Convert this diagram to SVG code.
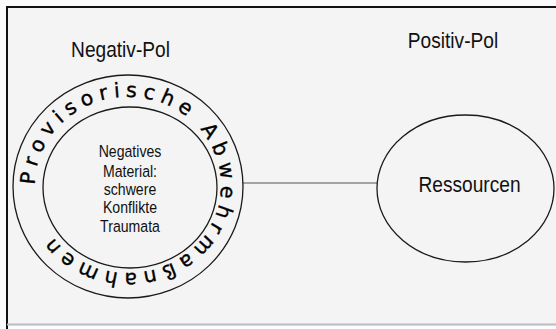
<svg xmlns="http://www.w3.org/2000/svg" width="556" height="329" viewBox="0 0 556 329">
  <style>
    .ring { fill: none; stroke: #1a1a1a; stroke-width: 1.3; }
    .label { font-family: "Liberation Sans", Arial, sans-serif; font-size: 22.5px; fill: #111; text-anchor: middle; }
    .inner { font-family: "Liberation Sans", Arial, sans-serif; font-size: 17px; fill: #111; text-anchor: middle; }
    .arc-text { font-family: "DejaVu Sans", Verdana, sans-serif; font-size: 20.5px; fill: #000; stroke: #000; stroke-width: 0.35; letter-spacing: 5.8px; }
    .link { stroke: #555; stroke-width: 1.1; fill: none; }
  </style>
  <defs>
    <!-- clockwise baseline for the lettering between the two rings, starting at the left -->
    <path id="ringPath" d="M35,185 A93,88 0 1,1 221,185 A93,88 0 1,1 35,185"/>
  </defs>

  <!-- paper and frame -->
  <rect x="0" y="0" width="556" height="329" fill="#fbfbfb"/>
  <rect x="7" y="7" width="549" height="317" fill="#f4f4f4"/>
  <line x1="7" y1="7" x2="556" y2="7" stroke="#111" stroke-width="2"/>
  <line x1="7" y1="6" x2="7" y2="329" stroke="#111" stroke-width="2"/>
  <line x1="7" y1="324.5" x2="556" y2="324.5" stroke="#b8bcc4" stroke-width="2"/>

  <g id="connectors">
    <line class="link" x1="243" y1="183" x2="377" y2="183"/>
  </g>

  <g id="negativ-pol">
    <g transform="translate(120.5,57) scale(0.85,1)">
      <text class="label" x="0" y="0">Negativ-Pol</text>
    </g>
    <ellipse class="ring" cx="128" cy="186.5" rx="115" ry="111.5"/>
    <ellipse class="ring" cx="130" cy="187.5" rx="87" ry="80.5"/>
    <text class="arc-text"><textPath href="#ringPath" startOffset="0">Provisorische Abwehrmaßnahmen</textPath></text>
    <g transform="translate(130,0) scale(0.83,1)">
      <text class="inner" x="0" y="157">Negatives</text>
      <text class="inner" x="0" y="177">Material:</text>
      <text class="inner" x="0" y="195">schwere</text>
      <text class="inner" x="0" y="213">Konflikte</text>
      <text class="inner" x="0" y="232">Traumata</text>
    </g>
  </g>

  <g id="positiv-pol">
    <g transform="translate(453,48) scale(0.85,1)">
      <text class="label" x="0" y="0">Positiv-Pol</text>
    </g>
    <ellipse class="ring" cx="465.5" cy="188.5" rx="88.5" ry="73.5"/>
    <g transform="translate(469.5,192) scale(0.85,1)">
      <text class="label" x="0" y="0">Ressourcen</text>
    </g>
  </g>
</svg>
